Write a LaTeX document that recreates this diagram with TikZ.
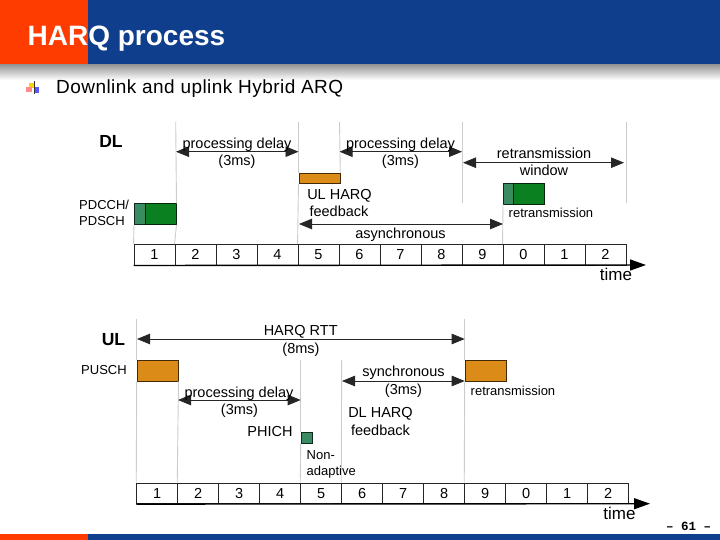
\documentclass[tikz,border=0pt]{standalone}
\usepackage{fontspec}
\setmainfont{Liberation Sans}
\newfontfamily\pagefont{Liberation Mono}
\usetikzlibrary{arrows.meta}
\definecolor{bandblue}{HTML}{0F3F8C}
\definecolor{bandred}{HTML}{FF3C00}
\definecolor{harqorange}{HTML}{DB8C18}
\definecolor{harqgreen}{HTML}{0A8020}
\definecolor{harqteal}{HTML}{3A8A62}
\tikzset{
  cell/.style={draw=black!85, line width=0.9pt, minimum width=41pt, minimum height=20.7pt, inner sep=0pt, font=\fontsize{14.5}{14.5}\selectfont},
  lbl/.style={inner sep=0pt, anchor=base, font=\fontsize{14.5}{14.5}\selectfont},
  small/.style={inner sep=0pt, anchor=base west, font=\fontsize{13}{13}\selectfont},
  head/.style={inner sep=0pt, anchor=base, font=\fontsize{17.5}{17.5}\selectfont\bfseries},
  timelbl/.style={inner sep=0pt, anchor=base, font=\fontsize{17}{17}\selectfont},
  grid/.style={draw=black!20, line width=0.9pt},
  span/.style={draw=black!85, line width=0.8pt, {Triangle[length=13pt,width=10.5pt]}-{Triangle[length=13pt,width=10.5pt]}},
  axis/.style={draw=black, line width=1.4pt, -{Triangle[length=16pt,width=11pt]}},
  orangebox/.style={draw=black!70!harqorange, line width=0.8pt, fill=harqorange, inner sep=0pt},
  greenbox/.style={draw=black!70!harqgreen, line width=0.8pt, fill=harqgreen, inner sep=0pt},
  tealbox/.style={draw=black!70!harqteal, line width=0.8pt, fill=harqteal, inner sep=0pt}
}
\begin{document}
\begin{tikzpicture}[x=1pt, y=-1pt]
\useasboundingbox (0,0) rectangle (720,540);

% Slide frame
\fill[bandblue] (0,0) rectangle (720,65);
\fill[bandred] (0,0) rectangle (88,65);
\shade[top color=black!40, bottom color=white] (0,65) rectangle (720,80);
\fill[bandblue] (0,534) rectangle (720,540);
\fill[bandred] (0,534) rectangle (88,540);
\node[anchor=base west, inner sep=0pt, text=white, font=\fontsize{28}{28}\selectfont\bfseries] (title) at (27.5,46) {HARQ process};

% Bullet
\fill[yellow!70!orange] (29,83) rectangle (35,88);
\fill[red!45] (26,87) rectangle (32,92);
\fill[blue!65] (34,87) rectangle (39,93);
\draw[black!80, line width=1pt] (34,81) -- (34,94);
\node[anchor=base west, inner sep=0pt, font=\fontsize{19}{19}\selectfont\addfontfeature{LetterSpace=2.4}] (subtitle) at (56,93.3) {Downlink and uplink Hybrid ARQ};
\node[anchor=base west, inner sep=0pt, font=\fontsize{12.5}{12.5}\pagefont\bfseries] (pagenum) at (666,530.5) {– 61 –};

% DL time line
\foreach \i/\lab in {1/1,2/2,3/3,4/4,5/5,6/6,7/7,8/8,9/9,10/0,11/1,12/2}
  \node[cell] (dl\i) at ({134+(\i-1)*41+20.5},254.7) {\lab};
\coordinate (dlend) at (646,265);
\draw[axis] (dl1.south west) -- (dlend);
\node[timelbl] (dltime) at (616,280.7) {time};

% DL grid lines
\coordinate (dltop2) at (175.7,122);
\coordinate (dltop5) at (298.5,122);
\coordinate (dltop6) at (339.5,122);
\coordinate (dltop9) at (462.5,122);
\coordinate (dlmid9) at (462.5,203);
\coordinate (dltop12) at (626,122);
\coordinate (dlmid12) at (626,203);
\node[tealbox, minimum width=11pt, minimum height=20.7pt, anchor=north west] (pdcch) at (134,203.3) {};
\node[greenbox, minimum width=30.7pt, minimum height=20.7pt, anchor=north west] (pdsch) at (145,203.3) {};
\node[orangebox, minimum width=41pt, minimum height=10.5pt, anchor=north west] (ulfb) at (298.5,172.7) {};
\node[tealbox, minimum width=10.3pt, minimum height=20.3pt, anchor=north west] (recch) at (503,183.3) {};
\node[greenbox, minimum width=30.7pt, minimum height=20.3pt, anchor=north west] (redata) at (513.3,183.3) {};
\draw[grid] (dltop2) -- (pdsch.north east);
\draw[grid] (pdsch.south east) -- (dl2.north west);
\draw[grid] (dltop5) -- (ulfb.north west);
\draw[grid] (ulfb.south west) -- (dl5.north west);
\draw[grid] (dltop6) -- (ulfb.north east);
\draw[grid] (dltop9) -- (dlmid9);
\draw[grid] (dltop12) -- (dlmid12);
\draw[grid] (pdcch.south west) -- (dl1.north west);
\draw[grid] (recch.south west) -- (dl10.north west);

% DL spans
\coordinate (dpa) at (176,151.7);
\coordinate (dpb) at (298.5,151.7);
\coordinate (dqa) at (339.5,151.7);
\coordinate (dqb) at (462,151.7);
\coordinate (dwa) at (463,162.7);
\coordinate (dwb) at (624,162.7);
\coordinate (daa) at (299,224);
\coordinate (dab) at (503,224);
\draw[span] (dpa) -- (dpb);
\draw[span] (dqa) -- (dqb);
\draw[span] (dwa) -- (dwb);
\draw[span] (daa) -- (dab);

% DL labels
\node[head] (dlhead) at (111,147.7) {DL};
\node[lbl] (dpt) at (237,148.3) {processing delay};
\node[lbl] (dpm) at (237,166) {(3ms)};
\node[lbl] (dqt) at (400.5,148.3) {processing delay};
\node[lbl] (dqm) at (400.5,166) {(3ms)};
\node[lbl] (dwt) at (544,158.7) {retransmission};
\node[lbl] (dwm) at (544,176) {window};
\node[small] (pdt) at (79,210) {PDCCH/};
\node[small] (pdb) at (79,225.7) {PDSCH};
\node[lbl] (fbt) at (339.5,199.3) {UL HARQ};
\node[lbl] (fbb) at (339,216.7) {feedback};
\node[lbl] (dat) at (400.5,238.3) {asynchronous};
\node[small] (dret) at (508.5,217.7) {retransmission};

% UL time line
\foreach \i/\lab in {1/1,2/2,3/3,4/4,5/5,6/6,7/7,8/8,9/9,10/0,11/1,12/2}
  \node[cell] (ul\i) at ({136.7+(\i-1)*41+20.5},493.3) {\lab};
\coordinate (ulend) at (650,503.7);
\draw[axis] (ul1.south west) -- (ulend);
\node[timelbl] (ultime) at (619.5,519) {time};

% UL grid lines
\coordinate (ultop1) at (136.7,319);
\coordinate (ultop5) at (300.7,360);
\coordinate (ultop6) at (341.7,360);
\coordinate (ultop9) at (464.7,319);
\node[orangebox, minimum width=41pt, minimum height=20.7pt, anchor=north west] (pusch) at (136.7,360) {};
\node[orangebox, minimum width=41pt, minimum height=20.7pt, anchor=north west] (ulre) at (464.7,360) {};
\node[tealbox, minimum width=10.8pt, minimum height=10.5pt, anchor=north west] (phich) at (300.7,432) {};
\draw[grid] (ultop1) -- (pusch.north west);
\draw[grid] (pusch.south west) -- (ul1.north west);
\draw[grid] (pusch.south east) -- (ul2.north west);
\draw[grid] (ultop5) -- (phich.north west);
\draw[grid] (phich.south west) -- (ul5.north west);
\draw[grid] (ultop6) -- (ul6.north west);
\draw[grid] (ultop9) -- (ulre.north west);
\draw[grid] (ulre.south west) -- (ul9.north west);

% UL spans
\coordinate (ura) at (137,339);
\coordinate (urb) at (464.7,339);
\coordinate (upa) at (178,400);
\coordinate (upb) at (300.7,400);
\coordinate (usa) at (342,381);
\coordinate (usb) at (464.7,381);
\draw[span] (ura) -- (urb);
\draw[span] (upa) -- (upb);
\draw[span] (usa) -- (usb);

% UL labels
\node[head] (ulhead) at (113.5,345) {UL};
\node[lbl] (urt) at (300.7,335.7) {HARQ RTT};
\node[lbl] (urm) at (301,353.3) {(8ms)};
\node[small] (puschl) at (81,374.3) {PUSCH};
\node[lbl] (upt) at (239,397.3) {processing delay};
\node[lbl] (upm) at (239.5,414.7) {(3ms)};
\node[lbl] (ust) at (403.5,376.7) {synchronous};
\node[lbl] (usm) at (403.5,394.3) {(3ms)};
\node[small] (uret) at (470.5,395) {retransmission};
\node[lbl] (dlfbt) at (380.5,417.3) {DL HARQ};
\node[lbl] (dlfbb) at (380.5,435.3) {feedback};
\node[lbl] (phichl) at (270,436.7) {PHICH};
\node[small] (nont) at (306.5,459) {Non-};
\node[small] (nonb) at (306.5,475) {adaptive};
\end{tikzpicture}
\end{document}
